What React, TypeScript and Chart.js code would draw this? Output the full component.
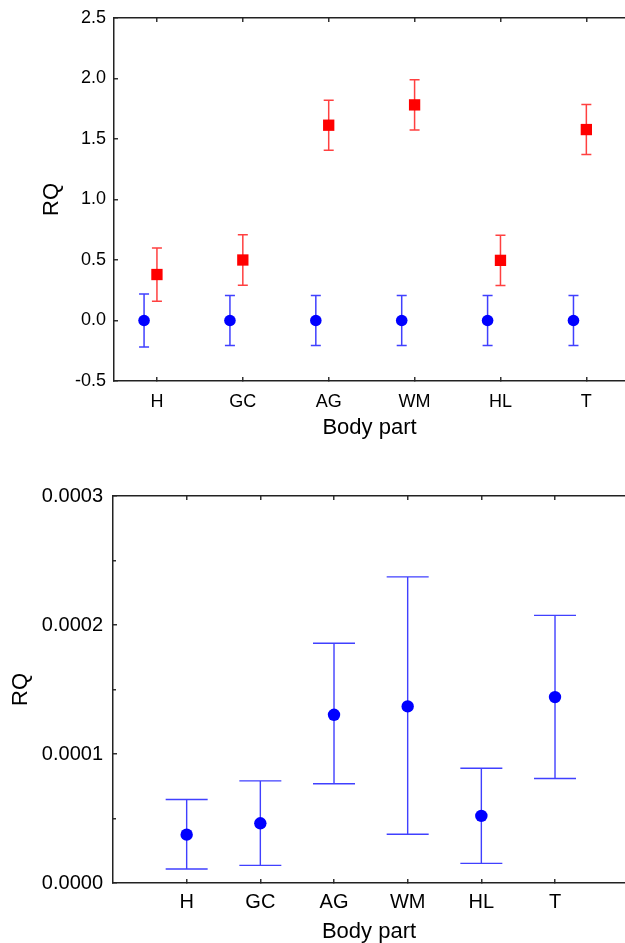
import React, { useEffect, useRef } from 'react';
import { Chart, registerables } from 'chart.js';

Chart.register(...registerables);

// ---------- data ----------
const categories = ['H', 'GC', 'AG', 'WM', 'HL', 'T'];

// top panel
const topYTicks = [-0.5, 0, 0.5, 1.0, 1.5, 2.0, 2.5];
const controlMean = [0, 0, 0, 0, 0, 0];
const controlErr = [0.22, 0.207, 0.207, 0.207, 0.207, 0.207];
const treatedMean = [0.38, 0.5, 1.614, 1.782, 0.497, 1.578];
const treatedErr = [0.22, 0.208, 0.207, 0.208, 0.207, 0.207];

// bottom panel
const bottomYTicks = [0, 0.0001, 0.0002, 0.0003];
const bottomYMinorTicks = [0.00005, 0.00015, 0.00025];
const rqMean = [0.0000375, 0.0000463, 0.0001304, 0.0001369, 0.000052, 0.0001441];
const rqLow = [0.0000109, 0.0000137, 0.0000769, 0.0000378, 0.0000152, 0.000081];
const rqHigh = [0.0000647, 0.0000792, 0.0001858, 0.0002373, 0.000089, 0.0002075];

// ---------- styling ----------
const FONT = "'Liberation Sans', Arial, Helvetica, sans-serif";
const AXIS_COLOR = '#222';
const CONTROL_OFFSET = -0.15;

const errorBarPlugin = {
  id: 'errorBars',
  beforeDatasetsDraw(chart: any) {
    const ctx = chart.ctx;
    const xs = chart.scales.x;
    const ys = chart.scales.y;
    chart.data.datasets.forEach((ds: any) => {
      const eb = ds.errorBars;
      if (!eb) return;
      ctx.save();
      ctx.strokeStyle = eb.color;
      ctx.lineWidth = eb.width;
      ds.data.forEach((p: any, i: number) => {
        const px = xs.getPixelForValue(p.x);
        const top = ys.getPixelForValue(eb.high[i]);
        const bot = ys.getPixelForValue(eb.low[i]);
        const h = eb.cap / 2;
        ctx.beginPath();
        ctx.moveTo(px, top);
        ctx.lineTo(px, bot);
        ctx.moveTo(px - h, top);
        ctx.lineTo(px + h, top);
        ctx.moveTo(px - h, bot);
        ctx.lineTo(px + h, bot);
        ctx.stroke();
      });
      ctx.restore();
    });
  },
};

const gridInward = (len: number) => ({
  display: true,
  drawOnChartArea: false,
  drawTicks: true,
  tickLength: -len,
  color: '#333',
  lineWidth: 1.5,
});

const categoryTicks = (s: any) => {
  s.ticks = categories.map((_, i) => ({ value: i }));
};

const fixWidth = (w: number) => (s: any) => {
  s.width = w;
  s.paddingTop = 0;
  s.paddingBottom = 0;
};

const fixHeight = (h: number) => (s: any) => {
  s.height = h;
  s.paddingLeft = 0;
  s.paddingRight = 0;
};

function buildTopConfig(): any {
  return {
    type: 'scatter',
    data: {
      datasets: [
        {
          label: 'control',
          data: categories.map((_, i) => ({ x: i + CONTROL_OFFSET, y: controlMean[i] })),
          pointStyle: 'circle',
          pointRadius: 5.8,
          backgroundColor: '#0000ff',
          borderWidth: 0,
          errorBars: {
            low: controlMean.map((m, i) => m - controlErr[i]),
            high: controlMean.map((m, i) => m + controlErr[i]),
            color: 'rgba(30,30,255,0.85)',
            width: 1.5,
            cap: 10,
          },
        },
        {
          label: 'treated',
          data: categories.map((_, i) => ({ x: i, y: treatedMean[i] })),
          pointStyle: 'rect',
          pointRadius: 8,
          backgroundColor: '#ff0000',
          borderWidth: 0,
          errorBars: {
            low: treatedMean.map((m, i) => m - treatedErr[i]),
            high: treatedMean.map((m, i) => m + treatedErr[i]),
            color: 'rgba(255,30,30,0.85)',
            width: 1.5,
            cap: 10,
          },
        },
      ],
    },
    options: {
      animation: false,
      responsive: false,
      layout: { autoPadding: false, padding: { top: 18, left: 0, right: 0, bottom: 29 } },
      plugins: { legend: { display: false }, tooltip: { enabled: false } },
      scales: {
        x: {
          type: 'linear',
          position: 'bottom',
          min: -0.5,
          max: 5.45,
          afterBuildTicks: categoryTicks,
          ticks: {
            callback: (v: any) => categories[v] ?? '',
            font: { family: FONT, size: 18 },
            color: '#000',
            padding: 14,
            maxRotation: 0,
            autoSkip: false,
          },
          grid: gridInward(4),
          border: { display: true, color: AXIS_COLOR, width: 1.5 },
          title: {
            display: true,
            text: 'Body part',
            font: { family: FONT, size: 22 },
            color: '#000',
            padding: 0,
          },
          afterFit: fixHeight(60),
        },
        xTop: {
          type: 'linear',
          axis: 'x',
          position: 'top',
          min: -0.5,
          max: 5.45,
          afterBuildTicks: categoryTicks,
          ticks: { display: false },
          grid: gridInward(4),
          border: { display: true, color: AXIS_COLOR, width: 1.5 },
          afterFit: fixHeight(0),
        },
        y: {
          type: 'linear',
          position: 'left',
          min: -0.5,
          max: 2.5,
          afterBuildTicks: (s: any) => {
            s.ticks = topYTicks.map((v) => ({ value: v }));
          },
          ticks: {
            callback: (v: any) => Number(v).toFixed(1),
            font: { family: FONT, size: 18 },
            color: '#000',
            padding: 12,
          },
          grid: gridInward(4),
          border: { display: true, color: AXIS_COLOR, width: 1.5 },
          title: {
            display: true,
            text: 'RQ',
            font: { family: FONT, size: 22 },
            color: '#000',
            padding: { top: 39, bottom: 0 },
          },
          afterFit: fixWidth(114),
        },
      },
    },
    plugins: [errorBarPlugin],
  };
}

function buildBottomConfig(): any {
  return {
    type: 'scatter',
    data: {
      datasets: [
        {
          label: 'RQ',
          data: categories.map((_, i) => ({ x: i, y: rqMean[i] })),
          pointStyle: 'circle',
          pointRadius: 6.2,
          backgroundColor: '#0000ff',
          borderWidth: 0,
          errorBars: {
            low: rqLow,
            high: rqHigh,
            color: 'rgba(30,30,255,0.85)',
            width: 1.4,
            cap: 42,
          },
        },
      ],
    },
    options: {
      animation: false,
      responsive: false,
      layout: { autoPadding: false, padding: { top: 26, left: 0, right: 0, bottom: 5 } },
      plugins: { legend: { display: false }, tooltip: { enabled: false } },
      scales: {
        x: {
          type: 'linear',
          position: 'bottom',
          min: -1,
          max: 5.95,
          afterBuildTicks: categoryTicks,
          ticks: {
            callback: (v: any) => categories[v] ?? '',
            font: { family: FONT, size: 20 },
            color: '#000',
            padding: 11,
            maxRotation: 0,
            autoSkip: false,
          },
          grid: gridInward(4),
          border: { display: true, color: AXIS_COLOR, width: 1.5 },
          title: {
            display: true,
            text: 'Body part',
            font: { family: FONT, size: 22 },
            color: '#000',
            padding: 0,
          },
          afterFit: fixHeight(62),
        },
        xTop: {
          type: 'linear',
          axis: 'x',
          position: 'top',
          min: -1,
          max: 5.95,
          afterBuildTicks: categoryTicks,
          ticks: { display: false },
          grid: gridInward(4),
          border: { display: true, color: AXIS_COLOR, width: 1.5 },
          afterFit: fixHeight(0),
        },
        y: {
          type: 'linear',
          position: 'left',
          weight: 1,
          min: 0,
          max: 0.0003,
          afterBuildTicks: (s: any) => {
            s.ticks = bottomYTicks.map((v) => ({ value: v }));
          },
          ticks: {
            callback: (v: any) => Number(v).toFixed(4),
            font: { family: FONT, size: 20 },
            color: '#000',
            padding: 14,
          },
          grid: gridInward(4),
          border: { display: true, color: AXIS_COLOR, width: 1.5 },
          title: {
            display: true,
            text: 'RQ',
            font: { family: FONT, size: 22 },
            color: '#000',
            padding: { top: 8, bottom: 0 },
          },
          afterFit: fixWidth(113),
        },
        yMinor: {
          type: 'linear',
          axis: 'y',
          position: 'left',
          weight: 0,
          min: 0,
          max: 0.0003,
          afterBuildTicks: (s: any) => {
            s.ticks = bottomYMinorTicks.map((v) => ({ value: v }));
          },
          ticks: { display: false },
          grid: gridInward(3),
          border: { display: false },
          afterFit: fixWidth(0),
        },
      },
    },
    plugins: [errorBarPlugin],
  };
}

export default function App() {
  const topRef = useRef<HTMLCanvasElement | null>(null);
  const bottomRef = useRef<HTMLCanvasElement | null>(null);

  useEffect(() => {
    const c1 = new Chart(topRef.current as HTMLCanvasElement, buildTopConfig());
    const c2 = new Chart(bottomRef.current as HTMLCanvasElement, buildBottomConfig());
    return () => {
      c1.destroy();
      c2.destroy();
    };
  }, []);

  return (
    <div
      style={{
        position: 'fixed',
        left: 0,
        top: 0,
        width: 625,
        height: 943,
        overflow: 'hidden',
        background: '#fff',
      }}
    >
      <canvas
        ref={topRef}
        width={625}
        height={470}
        style={{ position: 'absolute', left: 0, top: 0, width: 625, height: 470 }}
      />
      <canvas
        ref={bottomRef}
        width={625}
        height={480}
        style={{ position: 'absolute', left: 0, top: 470, width: 625, height: 480 }}
      />
    </div>
  );
}
